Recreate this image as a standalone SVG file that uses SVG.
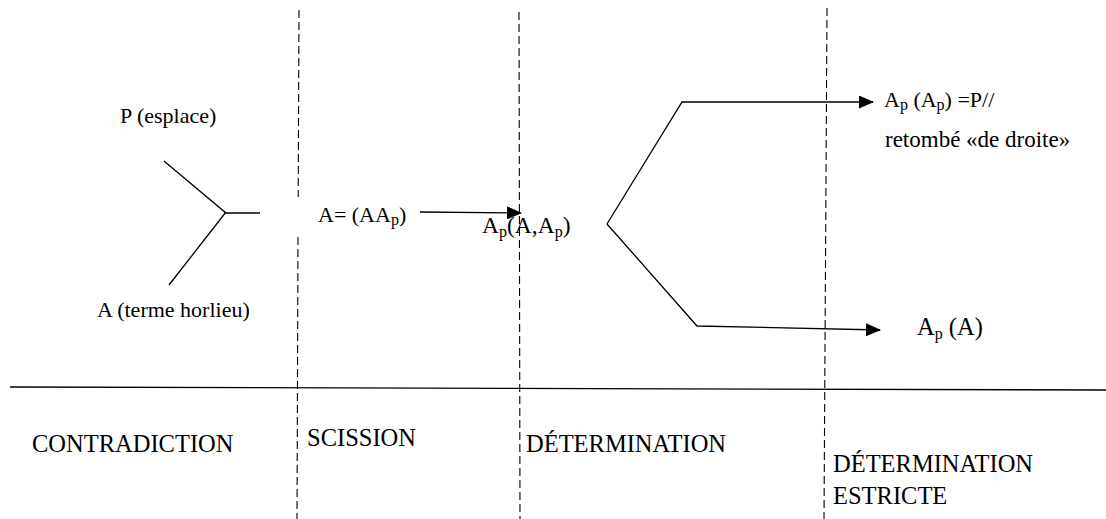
<svg xmlns="http://www.w3.org/2000/svg" width="1106" height="519" viewBox="0 0 1106 519" font-family="'Liberation Serif', 'Times New Roman', 'DejaVu Serif', serif">
<style>
text{font-family:'Liberation Serif','Times New Roman','DejaVu Serif',serif;fill:#000;font-size:22px}
.big{font-size:24.5px}
.mid{font-size:23.5px}
.sub{font-size:16px}
.ln{stroke:#000;stroke-width:1.3;fill:none}
.dash{stroke:#000;stroke-width:1.1;stroke-dasharray:8,4;fill:none}
</style>
<defs>
<marker id="arr" markerWidth="15" markerHeight="13" refX="14" refY="6.5" orient="auto" markerUnits="userSpaceOnUse">
<path d="M0,0 L15,6.5 L0,13 Z" fill="#000"/>
</marker>
</defs>
<rect width="1106" height="519" fill="#fff"/>
<g id="dividers">
<line class="dash" x1="299" y1="10" x2="298.2" y2="197"/>
<line class="dash" x1="298" y1="237" x2="297" y2="519"/>
<line class="dash" x1="519" y1="12" x2="520" y2="519"/>
<line class="dash" x1="827" y1="8" x2="824" y2="519"/>
<line class="ln" x1="10" y1="387" x2="1106" y2="390"/>
</g>
<g id="connectors">
<polyline class="ln" points="164,161 226,213 260,213"/>
<line class="ln" x1="226" y1="212" x2="169" y2="285"/>
<line class="ln" x1="420" y1="212" x2="521" y2="213" marker-end="url(#arr)"/>
<polyline class="ln" points="607,224 682,102 873,102" marker-end="url(#arr)"/>
<polyline class="ln" points="607,224 697,326 880,330" marker-end="url(#arr)"/>
</g>
<g id="node-p"><text x="120" y="123">P (esplace)</text></g>
<g id="node-a"><text x="97" y="317">A (terme horlieu)</text></g>
<g id="node-aap"><text x="318" y="222">A= (AA<tspan class="sub" dy="3">p</tspan><tspan dy="-3">)</tspan></text></g>
<g id="node-apa-ap"><text class="mid" x="482" y="233">A<tspan class="sub" dy="4">p</tspan><tspan dy="-4">(A,A</tspan><tspan class="sub" dy="4">p</tspan><tspan dy="-4">)</tspan></text></g>
<g id="node-apap"><text x="884" y="107">A<tspan class="sub" dy="3">p</tspan><tspan dy="-3"> (A</tspan><tspan class="sub" dy="3">p</tspan><tspan dy="-3">) =P//</tspan></text>
<text x="885" y="147" style="font-size:23px">retombé «de droite»</text></g>
<g id="node-apa"><text class="big" x="917" y="335">A<tspan class="sub" dy="4">p</tspan><tspan dy="-4"> (A)</tspan></text></g>
<g id="labels">
<text class="big" x="32" y="452">CONTRADICTION</text>
<text class="big" x="307" y="446">SCISSION</text>
<text class="big" x="526" y="452">DÉTERMINATION</text>
<text class="big" x="833" y="472">DÉTERMINATION</text>
<text class="big" x="833" y="504">ESTRICTE</text>
</g>
</svg>
